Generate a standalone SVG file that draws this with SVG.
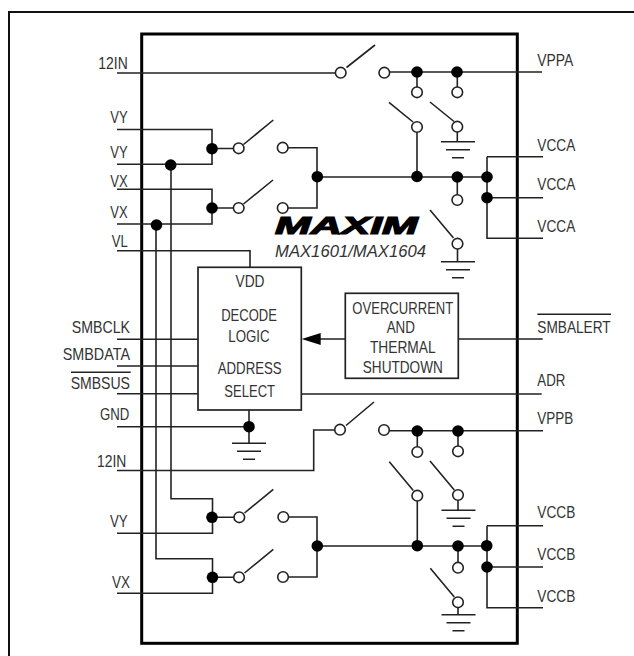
<svg xmlns="http://www.w3.org/2000/svg" width="634" height="656" viewBox="0 0 634 656">
<style>
text{font-family:"Liberation Sans",Arial,sans-serif;font-size:17px;fill:#333;}
.w{fill:none;stroke:#222;stroke-width:1.6;}
.o{fill:#fff;stroke:#222;stroke-width:1.6;}
.d{fill:#000;stroke:none;}
.b{fill:#fff;stroke:#222;stroke-width:1.7;}
.i{font-style:italic;}
</style>
<defs>
<circle id="dot" class="d" r="5.8"/>
<circle id="ring" class="o" r="5.3"/>
<path id="gnd" class="w" d="M-17 0H17M-12 8H12M-6 16H6"/>
</defs>
<rect width="634" height="656" fill="#fff"/>
<path id="frame" d="M9 656V12H634" fill="none" stroke="#111" stroke-width="2"/>
<rect id="chip" x="141.700" y="34" width="375.600" height="609.300" fill="none" stroke="#000" stroke-width="3"/>
<g id="connectors" class="w">
<path d="M117 73H335M346.500 67.500L375 45"/>
<path d="M117 129.500H212V164.300H117M212 148.500H233M243.500 144.500L273.300 120"/>
<path d="M117 189.300H212V224H117M212 208H233M243.500 204L273 180"/>
<path d="M171 165V498.700H212.500V533.300H117M156 225V558.700H212.500V593.300H117"/>
<path d="M212.500 517.300H234M244.500 513L273.300 489.300M212.500 577.300H234M244.500 573L273.300 549.300"/>
<path d="M288 147.700H317V208H288M317 177H487"/>
<path d="M288 517H317V577H288M317 546H487"/>
<path d="M389 72H542M417 72V87M457.300 72V87"/>
<path d="M389 102.300L413 122M417 132V177M430 102L454 121.500M457.300 132V141.700M457.300 177V195"/>
<path d="M487 156.700H543V156.700M487 156.700V238.300H543M487 197.700H543"/>
<path d="M430 210L453.500 238M457.500 249V261.700"/>
<path d="M117 250.700H250V267.300"/>
<path d="M117 339.300H198M117 366H198M117 393.700H198M117 426.700H249M249 410V443.300"/>
<path d="M301.700 394H541.700M458.300 339H542.700M320 339H345.300"/>
<path d="M117 470.500H313.700V430H335M346 425.500L374 402M389 430.700H543M417.300 431V447M458 431V446"/>
<path d="M389.300 461.700L413.300 490.500M417.300 501V546M430 461L454.300 490M458 500.500V510.300M458 546V562.500"/>
<path d="M487 525.700H543M487 525.700V607.700H543M487 567H543"/>
<path d="M430.300 568.300L454.300 597M458 607.500V614.700"/>
<path d="M71 372.300H130.700M537.300 314.300H611"/>
</g>
<polygon id="arrowhead" class="d" points="301.700,339 320.700,333 320.700,345"/>
<g id="junctions">
<use href="#dot" x="212" y="148.700"/><use href="#dot" x="170.700" y="165"/><use href="#dot" x="212" y="208"/><use href="#dot" x="156.500" y="225"/>
<use href="#dot" x="317.300" y="176.700"/><use href="#dot" x="417" y="176.500"/><use href="#dot" x="457.300" y="177"/><use href="#dot" x="487" y="177"/><use href="#dot" x="487" y="197.700"/>
<use href="#dot" x="417" y="72"/><use href="#dot" x="457" y="72"/>
<use href="#dot" x="249" y="426.700"/>
<use href="#dot" x="417.300" y="431"/><use href="#dot" x="458" y="431"/>
<use href="#dot" x="212" y="517.300"/><use href="#dot" x="212.500" y="577.300"/><use href="#dot" x="317.300" y="546"/>
<use href="#dot" x="417.300" y="545.700"/><use href="#dot" x="458" y="546"/><use href="#dot" x="486.700" y="545.700"/><use href="#dot" x="487" y="567"/>
</g>
<g id="terminals">
<use href="#ring" x="340.700" y="72.700"/><use href="#ring" x="384.300" y="72.700"/><use href="#ring" x="417" y="92.300"/><use href="#ring" x="457.300" y="92.300"/>
<use href="#ring" x="417" y="127"/><use href="#ring" x="457.300" y="126.700"/><use href="#ring" x="457.300" y="200"/><use href="#ring" x="457.500" y="243.700"/>
<use href="#ring" x="238.700" y="148.300"/><use href="#ring" x="282.700" y="147.700"/><use href="#ring" x="238.700" y="208"/><use href="#ring" x="282.700" y="208"/>
<use href="#ring" x="340" y="429.700"/><use href="#ring" x="384" y="430"/><use href="#ring" x="417.300" y="452"/><use href="#ring" x="458" y="451.300"/>
<use href="#ring" x="417.300" y="495.700"/><use href="#ring" x="458" y="495"/><use href="#ring" x="458" y="567.700"/><use href="#ring" x="458" y="602.300"/>
<use href="#ring" x="239.300" y="517.300"/><use href="#ring" x="283.300" y="517"/><use href="#ring" x="239" y="577.300"/><use href="#ring" x="283" y="577"/>
</g>
<g id="grounds">
<use href="#gnd" x="458" y="141.700"/><use href="#gnd" x="458" y="261.700"/><use href="#gnd" x="249" y="443.300"/><use href="#gnd" x="458.500" y="510.300"/><use href="#gnd" x="458.500" y="614.700"/>
</g>
<g id="decode-logic">
<rect class="b" x="198" y="267.300" width="103.300" height="142.700"/>
<text x="250" y="286.700" text-anchor="middle" textLength="29" lengthAdjust="spacingAndGlyphs">VDD</text>
<text x="249" y="321" text-anchor="middle" textLength="55.700" lengthAdjust="spacingAndGlyphs">DECODE</text>
<text x="249" y="341.700" text-anchor="middle" textLength="41.300" lengthAdjust="spacingAndGlyphs">LOGIC</text>
<text x="249.700" y="374.300" text-anchor="middle" textLength="64" lengthAdjust="spacingAndGlyphs">ADDRESS</text>
<text x="249.700" y="396.700" text-anchor="middle" textLength="50.700" lengthAdjust="spacingAndGlyphs">SELECT</text>
</g>
<g id="overcurrent">
<rect class="b" x="345.300" y="293.300" width="113" height="85"/>
<text x="402.800" y="314" text-anchor="middle" textLength="101" lengthAdjust="spacingAndGlyphs">OVERCURRENT</text>
<text x="400.800" y="333.300" text-anchor="middle" textLength="28.300" lengthAdjust="spacingAndGlyphs">AND</text>
<text x="402.800" y="353.300" text-anchor="middle" textLength="65.700" lengthAdjust="spacingAndGlyphs">THERMAL</text>
<text x="402.800" y="373" text-anchor="middle" textLength="80" lengthAdjust="spacingAndGlyphs">SHUTDOWN</text>
</g>
<g id="logo">
<text x="275" y="234.300" font-weight="bold" class="i" style="font-size:24px;fill:#000;stroke:#000;stroke-width:1.200" textLength="142.700" lengthAdjust="spacingAndGlyphs">MAXIM</text>
<text x="275" y="257.300" class="i" textLength="151" lengthAdjust="spacingAndGlyphs">MAX1601/MAX1604</text>
</g>
<g id="labels">
<text x="98.300" y="69" textLength="29.400" lengthAdjust="spacingAndGlyphs">12IN</text>
<text x="110.300" y="123.300" textLength="17.400" lengthAdjust="spacingAndGlyphs">VY</text>
<text x="110.300" y="158.300" textLength="17.400" lengthAdjust="spacingAndGlyphs">VY</text>
<text x="110.300" y="186.700" textLength="17.400" lengthAdjust="spacingAndGlyphs">VX</text>
<text x="110.300" y="218.300" textLength="17.400" lengthAdjust="spacingAndGlyphs">VX</text>
<text x="111.700" y="247.300" textLength="16" lengthAdjust="spacingAndGlyphs">VL</text>
<text x="71.700" y="332.700" textLength="58.300" lengthAdjust="spacingAndGlyphs">SMBCLK</text>
<text x="62.700" y="360" textLength="67.300" lengthAdjust="spacingAndGlyphs">SMBDATA</text>
<text x="70.700" y="389" textLength="59.300" lengthAdjust="spacingAndGlyphs">SMBSUS</text>
<text x="100" y="420" textLength="29.300" lengthAdjust="spacingAndGlyphs">GND</text>
<text x="97" y="466.700" textLength="29.400" lengthAdjust="spacingAndGlyphs">12IN</text>
<text x="110" y="526.700" textLength="17.700" lengthAdjust="spacingAndGlyphs">VY</text>
<text x="112" y="588.300" textLength="18" lengthAdjust="spacingAndGlyphs">VX</text>
<text x="537.300" y="65.700" textLength="36" lengthAdjust="spacingAndGlyphs">VPPA</text>
<text x="537.300" y="150.700" textLength="38" lengthAdjust="spacingAndGlyphs">VCCA</text>
<text x="537.300" y="190" textLength="38" lengthAdjust="spacingAndGlyphs">VCCA</text>
<text x="537.300" y="231.700" textLength="38" lengthAdjust="spacingAndGlyphs">VCCA</text>
<text x="537.300" y="333.300" textLength="73.400" lengthAdjust="spacingAndGlyphs">SMBALERT</text>
<text x="537.300" y="386" textLength="28" lengthAdjust="spacingAndGlyphs">ADR</text>
<text x="537.300" y="424" textLength="36" lengthAdjust="spacingAndGlyphs">VPPB</text>
<text x="537.300" y="518.300" textLength="38" lengthAdjust="spacingAndGlyphs">VCCB</text>
<text x="537.300" y="560" textLength="38" lengthAdjust="spacingAndGlyphs">VCCB</text>
<text x="537.300" y="602.300" textLength="38" lengthAdjust="spacingAndGlyphs">VCCB</text>
</g>
</svg>
